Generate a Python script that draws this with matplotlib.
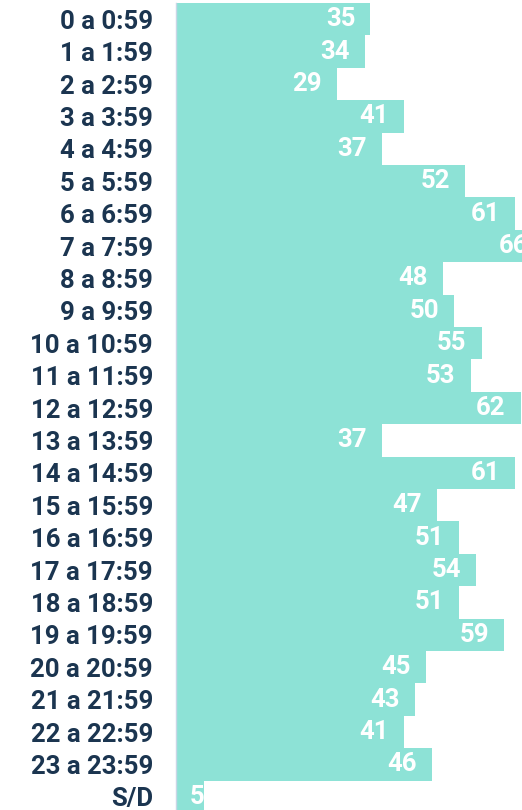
import matplotlib
matplotlib.use("Agg")
import matplotlib.pyplot as plt
from matplotlib.transforms import offset_copy

categories = ["0 a 0:59", "1 a 1:59", "2 a 2:59", "3 a 3:59", "4 a 4:59", "5 a 5:59",
              "6 a 6:59", "7 a 7:59", "8 a 8:59", "9 a 9:59", "10 a 10:59", "11 a 11:59",
              "12 a 12:59", "13 a 13:59", "14 a 14:59", "15 a 15:59", "16 a 16:59",
              "17 a 17:59", "18 a 18:59", "19 a 19:59", "20 a 20:59", "21 a 21:59",
              "22 a 22:59", "23 a 23:59", "S/D"]
values = [35, 34, 29, 41, 37, 52, 61, 66, 48, 50, 55, 53, 62, 37, 61, 47, 51, 54, 51, 59,
          45, 43, 41, 46, 5]

W, H = 522, 810
fig = plt.figure(figsize=(W / 100, H / 100), dpi=100)
ax = fig.add_axes([176 / W, -3 / H, 346 / W, 1.0])

bar_color = "#8de2d6"
label_color = "#1b3550"
font = "Roboto"
fs = 18.5

y = list(range(len(categories)))
ax.barh(y, values, height=1.0, color=bar_color, edgecolor="none")
ax.set_ylim(len(categories) - 0.5, -0.5)
ax.set_xlim(0, 346 / 5.557)

for s in ["top", "right", "bottom"]:
    ax.spines[s].set_visible(False)
ax.spines["left"].set_color("#c9d6e6")
ax.spines["left"].set_linewidth(1.0)
ax.set_xticks([])
ax.set_yticks(y)
ax.set_yticklabels(categories, fontsize=fs, fontweight="bold", color=label_color,
                   fontfamily=font)
ax.tick_params(axis="y", length=0, pad=16.5)

for yi, v in zip(y, values):
    if v >= 10:
        tr = offset_copy(ax.transData, fig=fig, x=-15, y=0, units="dots")
        ax.text(v, yi, str(v), transform=tr, ha="right", va="center", fontsize=fs,
                fontweight="bold", color="white", fontfamily=font)
    else:
        tr = offset_copy(ax.transData, fig=fig, x=14, y=0, units="dots")
        ax.text(0, yi, str(v), transform=tr, ha="left", va="center", fontsize=fs,
                fontweight="bold", color="white", fontfamily=font)

fig.savefig("out.png", dpi=100)
